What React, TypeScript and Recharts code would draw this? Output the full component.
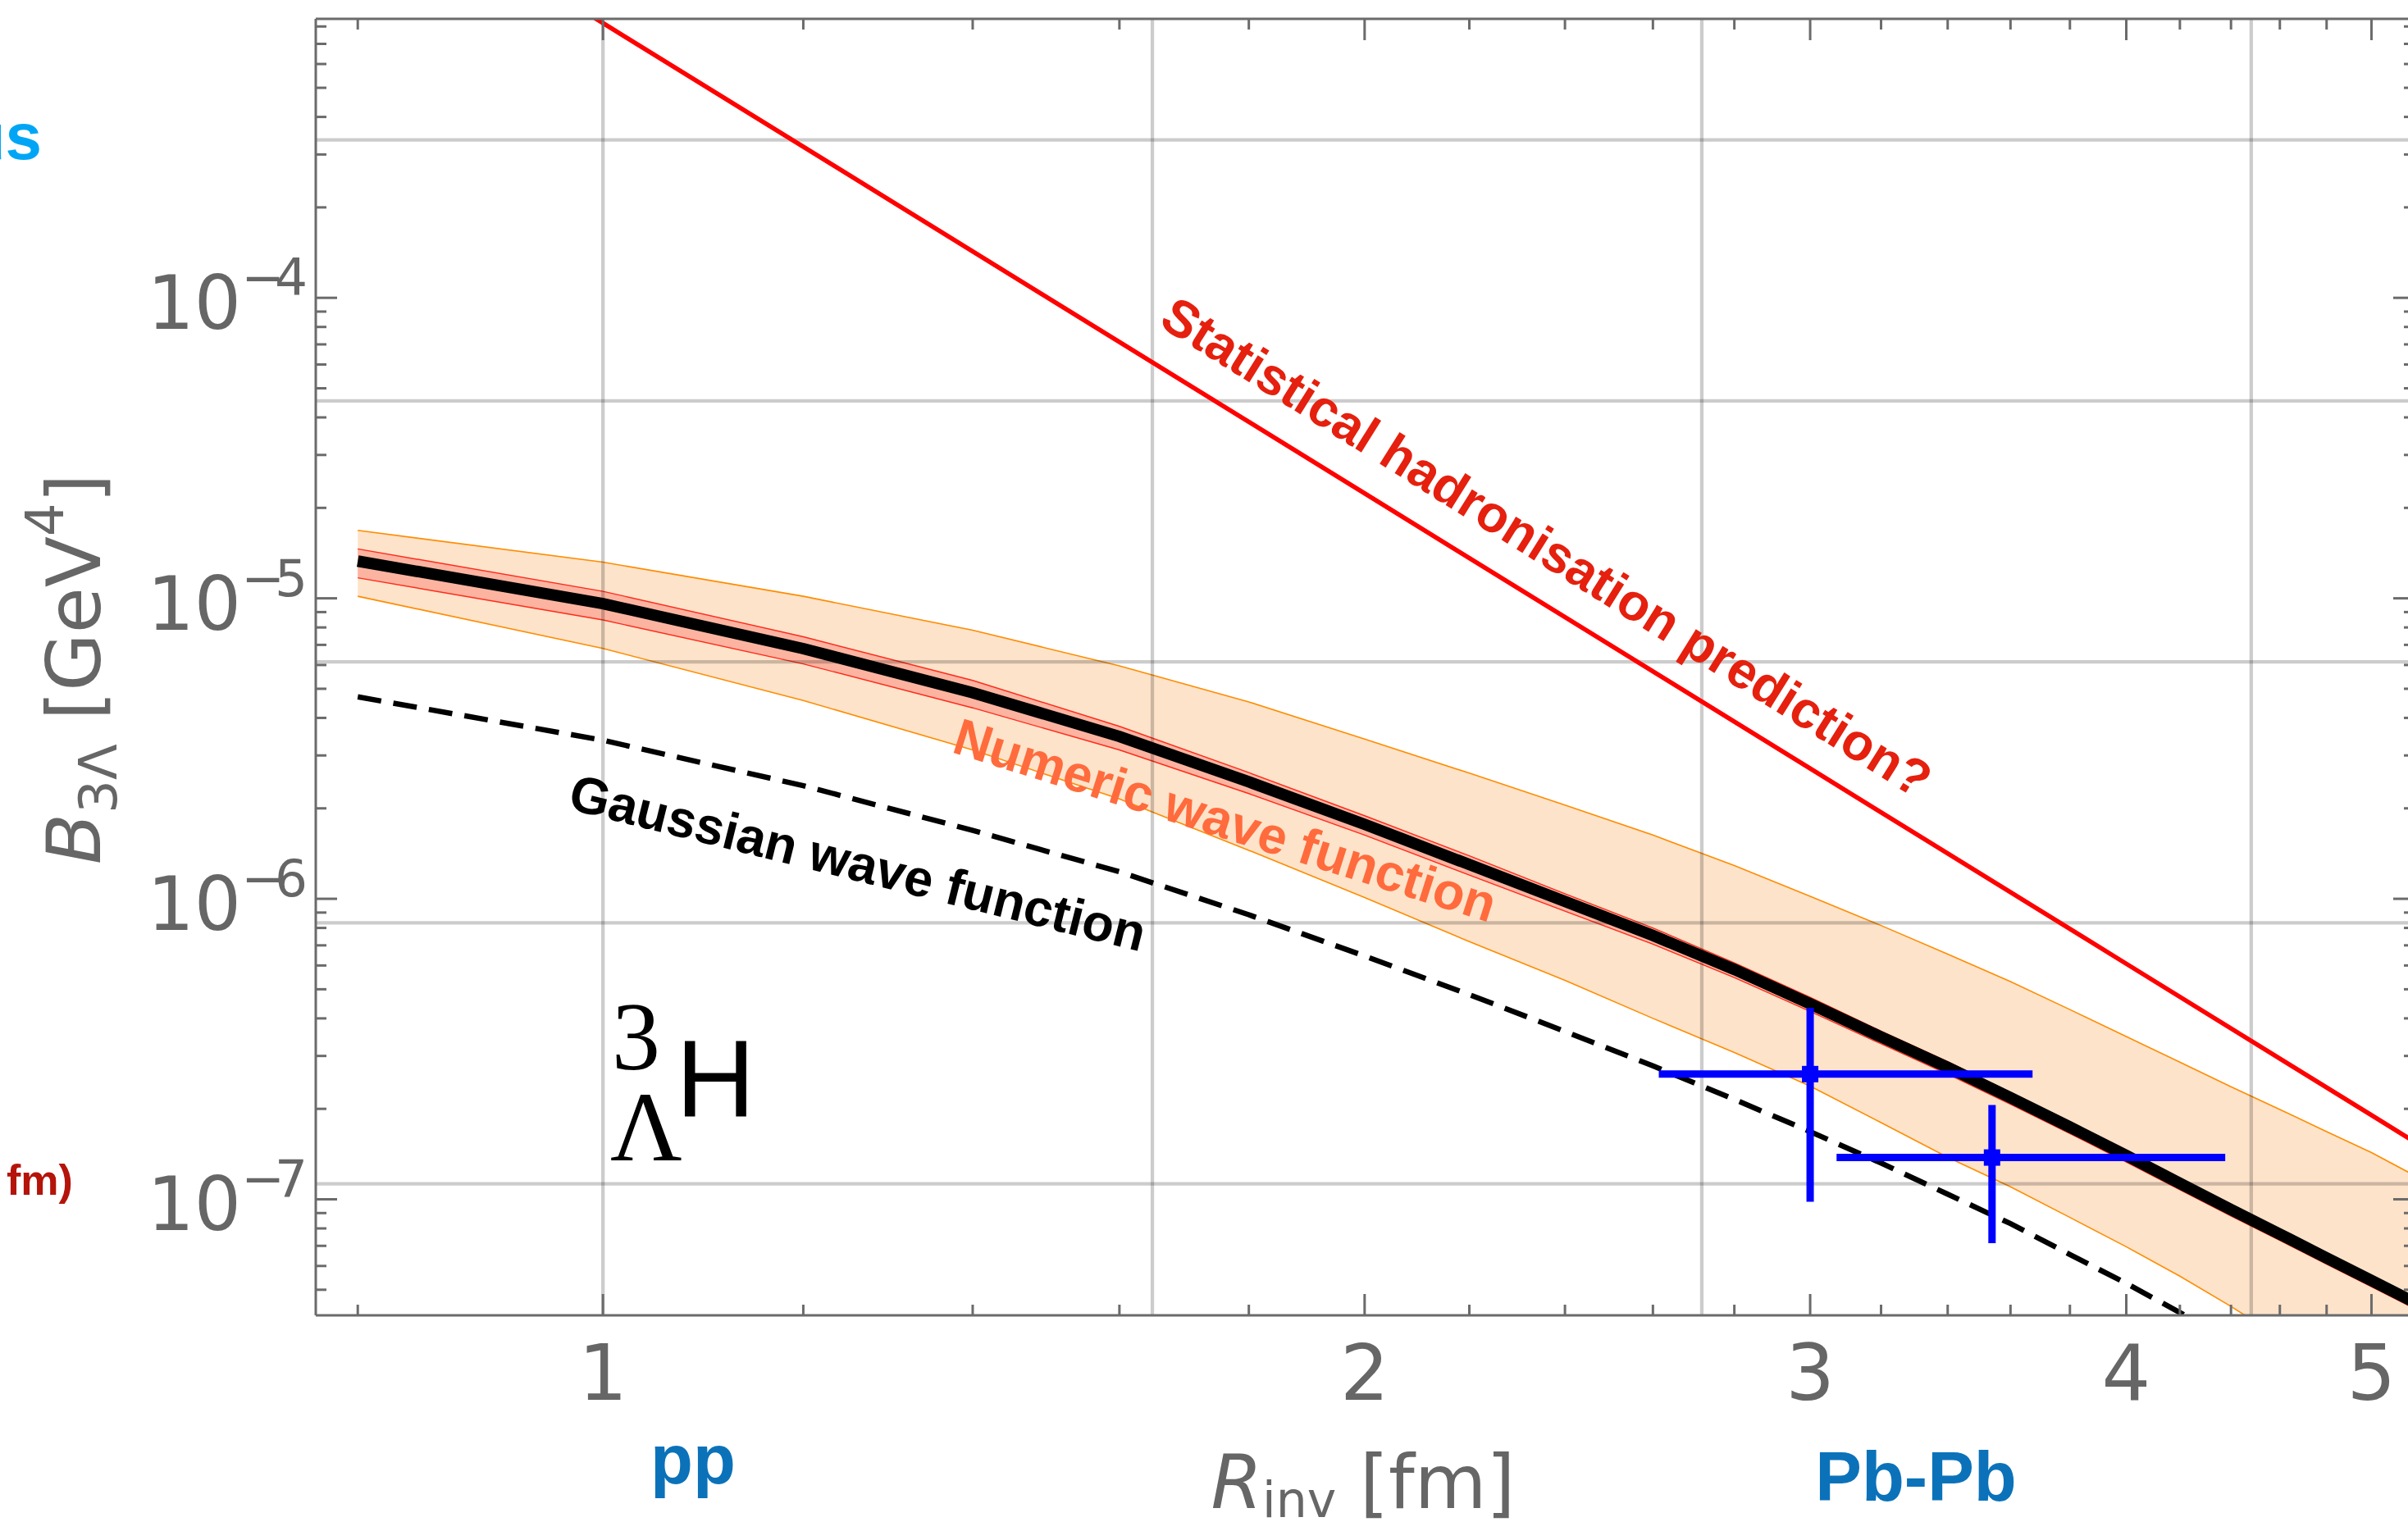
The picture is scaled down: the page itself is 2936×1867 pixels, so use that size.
import React from 'react';
import { ComposedChart, Line, Area, Scatter, ErrorBar, XAxis, YAxis, ReferenceLine } from 'recharts';

// sampling radii of the theory curves, R_inv in fm
const radii = [0.8, 1.0, 1.2, 1.4, 1.6, 1.8, 2.0, 2.2, 2.4, 2.6, 2.8, 3.0, 3.2, 3.4, 3.6, 3.8, 4.0, 4.2, 4.4, 4.6, 4.8, 5.0, 5.2];

// numeric wave function: central curve, inner (red) band, outer (orange) band
const numericCentral = [1.33e-5, 9.6e-6, 6.8e-6, 4.85e-6, 3.47e-6, 2.45e-6, 1.77e-6, 1.3e-6, 9.8e-7, 7.55e-7, 5.82e-7, 4.47e-7, 3.47e-7, 2.75e-7, 2.18e-7, 1.74e-7, 1.4e-7, 1.13e-7, 9.25e-8, 7.66e-8, 6.38e-8, 5.37e-8, 4.54e-8];
const numericInnerHigh = [1.46e-5, 1.055e-5, 7.45e-6, 5.33e-6, 3.75e-6, 2.63e-6, 1.89e-6, 1.39e-6, 1.04e-6, 8.0e-7, 6.12e-7, 4.7e-7, 3.63e-7, 2.87e-7, 2.27e-7, 1.81e-7, 1.455e-7, 1.175e-7, 9.6e-8, 7.95e-8, 6.62e-8, 5.57e-8, 4.71e-8];
const numericInnerLow = [1.17e-5, 8.47e-6, 6.05e-6, 4.32e-6, 3.13e-6, 2.24e-6, 1.63e-6, 1.2e-6, 9.1e-7, 7.06e-7, 5.47e-7, 4.22e-7, 3.29e-7, 2.61e-7, 2.07e-7, 1.655e-7, 1.33e-7, 1.075e-7, 8.8e-8, 7.3e-8, 6.08e-8, 5.12e-8, 4.33e-8];
const numericOuterHigh = [1.683e-5, 1.319e-5, 1.016e-5, 7.83e-6, 5.96e-6, 4.52e-6, 3.4e-6, 2.62e-6, 2.05e-6, 1.63e-6, 1.29e-6, 1.02e-6, 8.15e-7, 6.55e-7, 5.3e-7, 4.28e-7, 3.48e-7, 2.86e-7, 2.37e-7, 1.99e-7, 1.68e-7, 1.43e-7, 1.2e-7];
const numericOuterLow = [1.016e-5, 6.81e-6, 4.57e-6, 3.13e-6, 2.15e-6, 1.45e-6, 1.01e-6, 7.2e-7, 5.35e-7, 4.0e-7, 3.08e-7, 2.38e-7, 1.8e-7, 1.38e-7, 1.1e-7, 8.7e-8, 6.95e-8, 5.55e-8, 4.4e-8, 3.47e-8, 2.76e-8, 2.2e-8, 1.8e-8];

// gaussian wave function (dashed)
const gaussianCurve = [4.7e-6, 3.37e-6, 2.38e-6, 1.69e-6, 1.23e-6, 8.85e-7, 6.45e-7, 4.8e-7, 3.62e-7, 2.78e-7, 2.15e-7, 1.68e-7, 1.32e-7, 1.04e-7, 8.3e-8, 6.55e-8, 5.25e-8, 4.2e-8, 3.4e-8, 2.75e-8, 2.25e-8, 1.85e-8, 1.5e-8];

// statistical hadronisation prediction
const statRadii = [0.8, 1.0, 2.0, 3.0, 4.0, 5.0, 5.2];
const statValues = [2.62e-3, 8.21e-4, 2.235e-5, 2.714e-6, 6.08e-7, 1.905e-7, 1.553e-7];

// measured points
const pointR = [3.0, 3.54];
const pointRLow = [2.614, 3.073];
const pointRHigh = [3.673, 4.377];
const pointB = [2.61e-7, 1.377e-7];
const pointBLow = [9.82e-8, 7.14e-8];
const pointBHigh = [4.34e-7, 2.06e-7];

const xMajorTicks = [1, 2, 3, 4, 5];
const xMinorTicks = [0.8, 1.2, 1.4, 1.6, 1.8, 2.2, 2.4, 2.6, 2.8, 3.2, 3.4, 3.6, 3.8, 4.2, 4.4, 4.6, 4.8];
const yMajorTicks = [1e-7, 1e-6, 1e-5, 1e-4];
const yMinorTicks = [
  5e-8, 6e-8, 7e-8, 8e-8, 9e-8,
  2e-7, 3e-7, 4e-7, 5e-7, 6e-7, 7e-7, 8e-7, 9e-7,
  2e-6, 3e-6, 4e-6, 5e-6, 6e-6, 7e-6, 8e-6, 9e-6,
  2e-5, 3e-5, 4e-5, 5e-5, 6e-5, 7e-5, 8e-5, 9e-5,
  2e-4, 3e-4, 4e-4, 5e-4, 6e-4, 7e-4, 8e-4,
];
const xGrid = [1, 1.6487, 2.7183, 4.4817];
const yGrid = [3.3546e-4, 4.54e-5, 6.1442e-6, 8.3153e-7, 1.1254e-7];

const xDomain = [0.77, 5.2];
const yDomain = [4.11e-8, 8.48e-4];

const bandData = radii.map((r, i) => ({
  r,
  outer: [numericOuterLow[i], numericOuterHigh[i]],
  inner: [numericInnerLow[i], numericInnerHigh[i]],
  central: numericCentral[i],
  gauss: gaussianCurve[i],
}));
const statData = statRadii.map((r, i) => ({ r, stat: statValues[i] }));
const pointData = pointR.map((r, i) => ({
  r,
  b: pointB[i],
  rErr: [r - pointRLow[i], pointRHigh[i] - r],
  bErr: [pointB[i] - pointBLow[i], pointBHigh[i] - pointB[i]],
}));

const xTicks = [...xMinorTicks, ...xMajorTicks].sort((a, b) => a - b);
const yTicks = [...yMinorTicks, ...yMajorTicks].sort((a, b) => a - b);

const AXIS = '#6b6b6b';
const LABEL = '#666666';
const SANS = 'DejaVu Sans';
const BOLD = 'Liberation Sans';

const BottomTick = (props: any) => {
  const { x, y, payload } = props;
  const major = xMajorTicks.includes(payload.value);
  return (
    <g>
      <line x1={x} y1={y} x2={x} y2={y - (major ? 26 : 13)} stroke={AXIS} strokeWidth={3} />
      {major && (
        <text x={x} y={y + 103} textAnchor="middle" fontSize={94} fill={LABEL} fontFamily={SANS}>
          {payload.value}
        </text>
      )}
    </g>
  );
};

const TopTick = (props: any) => {
  const { x, y, payload } = props;
  const major = xMajorTicks.includes(payload.value);
  return <line x1={x} y1={y} x2={x} y2={y + (major ? 26 : 13)} stroke={AXIS} strokeWidth={3} />;
};

const LeftTick = (props: any) => {
  const { x, y, payload } = props;
  const major = yMajorTicks.includes(payload.value);
  const exp = Math.round(Math.log10(payload.value));
  return (
    <g>
      <line x1={x} y1={y} x2={x + (major ? 26 : 13)} y2={y} stroke={AXIS} strokeWidth={3} />
      {major && (
        <text x={x - 22} y={y + 38} textAnchor="end" fontSize={90} fill={LABEL} fontFamily={SANS}>
          10
          <tspan fontSize={63} dy={-41} letterSpacing={-12}>{'\u2212' + Math.abs(exp)}</tspan>
        </text>
      )}
    </g>
  );
};

const RightTick = (props: any) => {
  const { x, y, payload } = props;
  const major = yMajorTicks.includes(payload.value);
  return <line x1={x} y1={y} x2={x - (major ? 26 : 13)} y2={y} stroke={AXIS} strokeWidth={3} />;
};

const SquareDot = (p: any) => <rect x={p.cx - 10} y={p.cy - 10} width={20} height={20} fill="#0000ff" />;

const axisLine = { stroke: AXIS, strokeWidth: 3 };

export default function App() {
  return (
    <div style={{ position: 'absolute', left: 0, top: 0, width: 2936, height: 1867, overflow: 'hidden', background: '#fff' }}>
      <ComposedChart width={2950} height={1867} data={bandData} margin={{ top: 0, right: 0, bottom: 0, left: 0 }}>
        <XAxis xAxisId="b" dataKey="r" type="number" scale="log" domain={xDomain} allowDataOverflow
          ticks={xTicks} interval={0} height={263} tickSize={0} tickMargin={0} tickLine={false}
          axisLine={axisLine} tick={(p: any) => <BottomTick {...p} />} />
        <XAxis xAxisId="t" orientation="top" dataKey="r" type="number" scale="log" domain={xDomain} allowDataOverflow
          ticks={xTicks} interval={0} height={23} tickSize={0} tickMargin={0} tickLine={false}
          axisLine={axisLine} tick={(p: any) => <TopTick {...p} />} />
        <YAxis yAxisId="l" type="number" scale="log" domain={yDomain} allowDataOverflow
          ticks={yTicks} interval={0} width={385} tickSize={0} tickMargin={0} tickLine={false}
          axisLine={axisLine} tick={(p: any) => <LeftTick {...p} />} />
        <YAxis yAxisId="r" orientation="right" type="number" scale="log" domain={yDomain} allowDataOverflow
          ticks={yTicks} interval={0} width={6} tickSize={0} tickMargin={0} tickLine={false}
          axisLine={axisLine} tick={(p: any) => <RightTick {...p} />} />

        <Area xAxisId="b" yAxisId="l" dataKey="outer" type="linear" stroke="#ff8c00" strokeWidth={1.6}
          fill="#fde3ca" fillOpacity={1} dot={false} activeDot={false} isAnimationActive={false} />
        <Area xAxisId="b" yAxisId="l" dataKey="inner" type="linear" stroke="#ff2a1a" strokeWidth={1.4}
          fill="#fcb4a1" fillOpacity={1} dot={false} activeDot={false} isAnimationActive={false} />

        {xGrid.map((v) => (
          <ReferenceLine key={'gx' + v} xAxisId="b" yAxisId="l" x={v} stroke="#000" strokeOpacity={0.2} strokeWidth={4.3} />
        ))}
        {yGrid.map((v) => (
          <ReferenceLine key={'gy' + v} xAxisId="b" yAxisId="l" y={v} stroke="#000" strokeOpacity={0.2} strokeWidth={4.3} />
        ))}

        <Line xAxisId="b" yAxisId="l" data={statData} dataKey="stat" type="linear" stroke="#ff0000" strokeWidth={5.5}
          dot={false} activeDot={false} isAnimationActive={false} />
        <Line xAxisId="t" yAxisId="r" dataKey="gauss" type="linear" stroke="#000" strokeWidth={6.5} strokeDasharray="29 15"
          dot={false} activeDot={false} isAnimationActive={false} />
        <Line xAxisId="b" yAxisId="l" dataKey="central" type="linear" stroke="#000" strokeWidth={14}
          dot={false} activeDot={false} isAnimationActive={false} />

        <Scatter xAxisId="b" yAxisId="l" data={pointData} dataKey="b" shape={SquareDot} isAnimationActive={false}>
          <ErrorBar dataKey="rErr" direction="x" width={0} stroke="#0000ff" strokeWidth={9} isAnimationActive={false} />
          <ErrorBar dataKey="bErr" direction="y" width={0} stroke="#0000ff" strokeWidth={9} isAnimationActive={false} />
        </Scatter>
      </ComposedChart>

      <svg width={2936} height={1867} style={{ position: 'absolute', left: 0, top: 0, pointerEvents: 'none' }}>
        <text x={51} y={194} textAnchor="end" fontSize={80} fontWeight={700} fill="#00a6f5" fontFamily={BOLD}>us</text>
        <text x={8} y={1457} fontSize={52} fontWeight={700} fill="#b4140a" fontFamily={BOLD}>fm)</text>

        <text transform="translate(122, 816) rotate(-90)" textAnchor="middle" fontSize={91} fill={LABEL} fontFamily={SANS}>
          <tspan fontStyle="italic">B</tspan>
          <tspan fontSize={64} dy={20}>3Λ</tspan>
          <tspan dy={-20}>{'\u00a0[GeV'}</tspan>
          <tspan fontSize={64} dy={-45}>4</tspan>
          <tspan dy={45}>]</tspan>
        </text>

        <text x={1662} y={1839} textAnchor="middle" fontSize={90} fill={LABEL} fontFamily={SANS}>
          <tspan fontStyle="italic">R</tspan>
          <tspan fontSize={60} dy={11}>inv</tspan>
          <tspan dy={-11}>{'\u00a0[fm]'}</tspan>
        </text>

        <text x={845} y={1809} textAnchor="middle" fontSize={85} fontWeight={700} fill="#0b72ba" fontFamily={BOLD}>pp</text>
        <text x={2336} y={1830} textAnchor="middle" fontSize={85} fontWeight={700} fill="#0b72ba" fontFamily={BOLD}>Pb-Pb</text>

        <text transform="translate(1886, 667) rotate(32)" textAnchor="middle" dominantBaseline="central"
          fontSize={63} fontWeight={700} fill="#e5200e" fontFamily={BOLD}>Statistical hadronisation prediction?</text>
        <text transform="translate(1494, 1000) rotate(17.6)" textAnchor="middle" dominantBaseline="central"
          fontSize={63} fontWeight={700} fill="#ff6b3d" fontFamily={BOLD}>Numeric wave function</text>
        <text transform="translate(1046, 1052) rotate(14)" textAnchor="middle" dominantBaseline="central"
          fontSize={63} fontWeight={700} fill="#000" fontFamily={BOLD}>Gaussian wave function</text>

        <text fontFamily="Liberation Serif" fill="#000">
          <tspan x={746} y={1304} fontSize={118}>3</tspan>
          <tspan x={744} y={1415} fontSize={121}>Λ</tspan>
        </text>
        <text x={824} y={1362} fontSize={134} fill="#000" fontFamily={BOLD}>H</text>
      </svg>
    </div>
  );
}
